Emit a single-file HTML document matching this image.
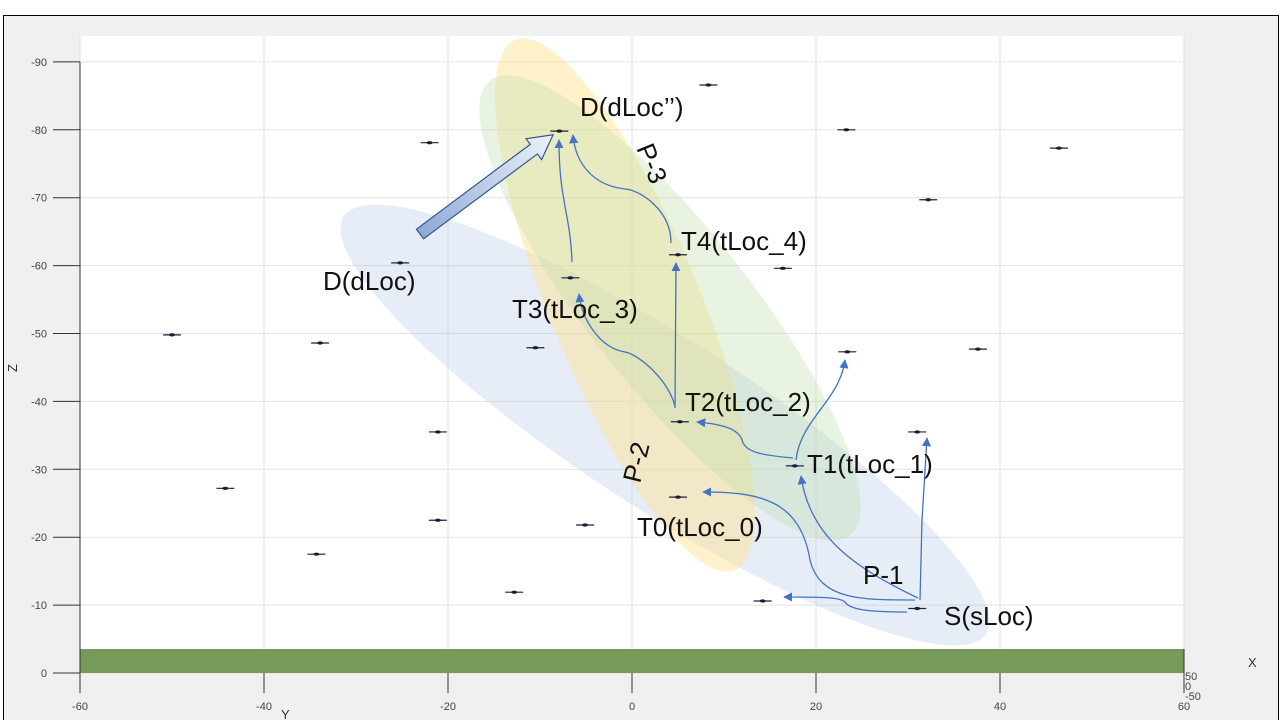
<!DOCTYPE html>
<html><head><meta charset="utf-8"><style>
body{margin:0;background:#fff;}
svg{display:block;font-family:"Liberation Sans",sans-serif;}
.tk{font-size:11px;fill:#444;}
.lb{font-size:26px;fill:#111;}
</style></head><body>
<svg width="1280" height="720" viewBox="0 0 1280 720">
<defs>
<marker id="ah" viewBox="0 0 10 10" refX="9" refY="5" markerWidth="7" markerHeight="7" orient="auto-start-reverse"><path d="M0,0L10,5L0,10z" fill="#4472c4"/></marker>
<linearGradient id="bg" x1="0" y1="0" x2="1" y2="0"><stop offset="0" stop-color="#8fa9d6"/><stop offset="1" stop-color="#eef2fa"/></linearGradient>
</defs>
<rect x="3.5" y="15.5" width="1275" height="710" fill="#f0f0f0" stroke="#000"/>
<rect x="80" y="36" width="1104" height="637" fill="#fff"/>
<g id="grid"></g>
<rect x="80" y="649" width="1104" height="24" fill="#779a5b"/>
<g id="axes"></g>
<g>
<ellipse cx="665" cy="425" rx="383" ry="85" transform="rotate(33 665 425)" fill="rgba(180,199,231,0.32)"/>
<ellipse cx="625" cy="305" rx="287" ry="75" transform="rotate(67.5 625 305)" fill="rgba(255,226,140,0.45)"/>
<ellipse cx="670" cy="308" rx="290" ry="80" transform="rotate(51.6 670 308)" fill="rgba(190,220,170,0.35)"/>
</g>
<g id="pts"></g>
<g fill="none" stroke="#4472c4" stroke-width="1.3" marker-end="url(#ah)">
<path d="M920,600 L922,520 L927,438"/>
<path d="M918,598 C860,570 810,540 801,476"/>
<path d="M915,600 C860,600 820,600 810,560 C800,500 760,492 703,492"/>
<path d="M907,612 C870,612 850,610 845,602 C840,597 820,597 784,597"/>
<path d="M796,460 C800,420 840,400 845,360"/>
<path d="M793,458 C760,455 745,452 742,440 C738,428 720,424 697,422"/>
<path d="M675,408 L676,263"/>
<path d="M675,406 C668,380 640,355 625,352 C600,348 582,320 579,294"/>
<path d="M572,262 C571,230 565,210 564,200 C560,180 559,160 559,140"/>
<path d="M671,243 C671,210 640,190 625,189 C590,185 575,160 573,135"/>
</g>
<polygon transform="translate(420,234) rotate(-36.7)" points="0,-6 142,-6 142,-13 166,0 142,13 142,6 0,6" fill="url(#bg)" stroke="#2f5597" stroke-width="1.2"/>
<g class="lb">
<text x="580" y="116">D(dLoc’’)</text>
<text transform="translate(636,148) rotate(68)">P-3</text>
<text x="681" y="250">T4(tLoc_4)</text>
<text x="323" y="290">D(dLoc)</text>
<text x="512" y="318">T3(tLoc_3)</text>
<text x="685" y="411">T2(tLoc_2)</text>
<text x="807" y="473">T1(tLoc_1)</text>
<text transform="translate(640,484) rotate(-76)">P-2</text>
<text x="637" y="536">T0(tLoc_0)</text>
<text x="863" y="584">P-1</text>
<text x="944" y="625">S(sLoc)</text>
</g>
<text x="281" y="719" font-size="13" fill="#333">Y</text>
<text transform="translate(17,372) rotate(-90)" font-size="13" fill="#333">Z</text>
<text x="1248" y="667" font-size="13" fill="#333">X</text>
<text x="1185" y="680" class="tk">50</text>
<text x="1185" y="690" class="tk">0</text>
<text x="1185" y="700" class="tk">-50</text>
</svg>
<script>
const yTicks=[-60,-40,-20,0,20,40,60];
const zTicks=[0,-10,-20,-30,-40,-50,-60,-70,-80,-90];
const ptY=[8.3,-7.9,23.3,46.4,-22,32.2,-25.2,-6.7,16.4,5,-50,-33.9,-10.5,23.4,37.6,-21.1,5.2,31,17.7,-44.2,5,-21.1,-5.1,-34.3,-12.8,14.2,31];
const ptZ=[-86.6,-79.8,-80,-77.3,-78.1,-69.7,-60.4,-58.2,-59.6,-61.6,-49.8,-48.6,-47.9,-47.3,-47.7,-35.5,-37,-35.5,-30.5,-27.2,-25.9,-22.5,-21.8,-17.5,-11.9,-10.6,-9.5];
const NS='http://www.w3.org/2000/svg';
function sx(v){return 632+v*9.2;}
function sz(v){return 673+v*6.79;}
function mk(t,a,p){const e=document.createElementNS(NS,t);for(const k in a)e.setAttribute(k,a[k]);p.appendChild(e);return e;}
const grid=document.getElementById('grid'),axes=document.getElementById('axes'),pts=document.getElementById('pts');
yTicks.forEach(v=>{
 const l=mk('line',{x1:sx(v),x2:sx(v),y1:36,y2:673,stroke:'#e2e2e2'},grid);
 
 
 const t=mk('line',{x1:sx(v),x2:sx(v),y1:673,y2:693,stroke:'#333'},axes);
 
 
 const tx=mk('text',{x:sx(v),y:710,'text-anchor':'middle',class:'tk'},axes);tx.textContent=v;
 
 
});
zTicks.forEach(v=>{
 const l=mk('line',{x1:80,x2:1184,y1:sz(v),y2:sz(v),stroke:'#e2e2e2'},grid);
 
 
 const t=mk('line',{x1:53,x2:80,y1:sz(v),y2:sz(v),stroke:'#333'},axes);
 
 
 const tx=mk('text',{x:47,y:sz(v)+4,'text-anchor':'end',class:'tk'},axes);tx.textContent=v;
 
 
});
const ax=mk('line',{x1:80,x2:80,y1:sz(-90),y2:693,stroke:'#333'},axes);


const ax2=mk('line',{x1:1184,x2:1184,y1:649,y2:690,stroke:'#333'},axes);


ptY.forEach((v,i)=>{
 const g=mk('g',{},pts);
 
 
 mk('line',{x1:sx(v)-9,x2:sx(v)+9,y1:sz(ptZ[i]),y2:sz(ptZ[i]),stroke:'#223',"stroke-width":1.2},g);
 mk('ellipse',{cx:sx(v),cy:sz(ptZ[i]),rx:3,ry:1.6,fill:'#1a1a40'},g);
});
</script>
</body></html>
